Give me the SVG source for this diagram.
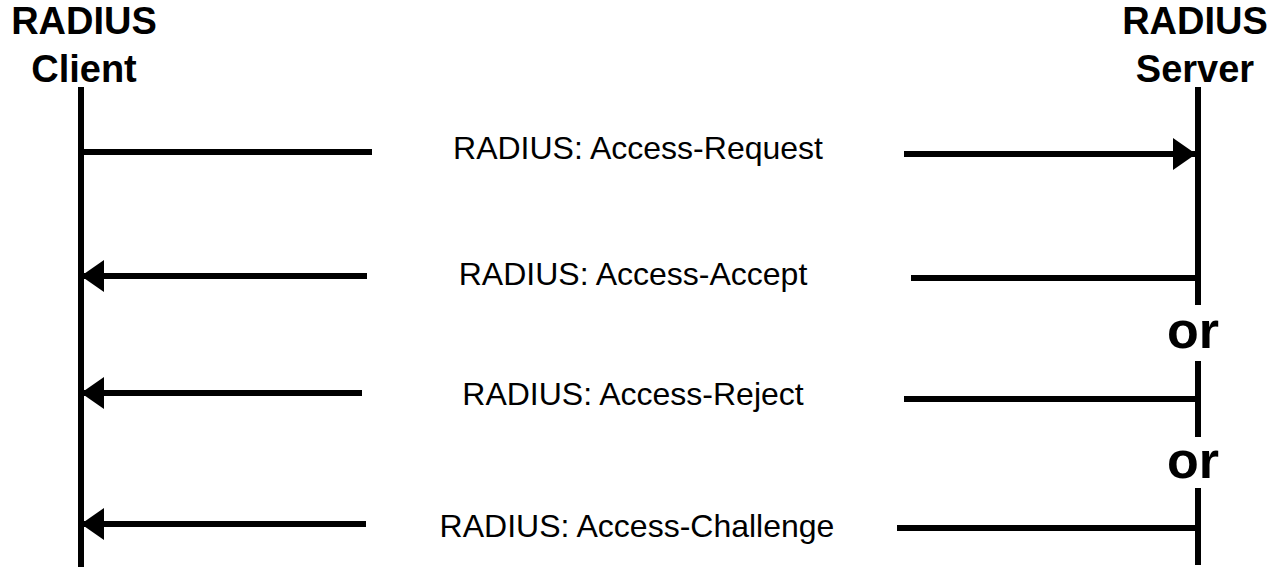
<svg xmlns="http://www.w3.org/2000/svg" width="1280" height="573" viewBox="0 0 1280 573">
<style>
  .title { font-family: "Liberation Sans", Arial, Helvetica, sans-serif; font-weight: bold; font-size: 38px; fill: #000; text-anchor: middle; }
  .label { font-family: "Liberation Sans", Arial, Helvetica, sans-serif; font-size: 32px; fill: #000; text-anchor: middle; }
  .or { font-family: "Liberation Sans", Arial, Helvetica, sans-serif; font-weight: bold; font-size: 52px; fill: #000; text-anchor: middle; }
  .life { stroke: #000; stroke-width: 6; fill: none; }
  .msg { stroke: #000; stroke-width: 6; fill: none; }
  .arrow { marker-end: url(#head); }
</style>
<defs>
  <marker id="head" markerUnits="userSpaceOnUse" markerWidth="24" markerHeight="32" refX="23" refY="16" orient="auto">
    <path d="M0,0 L23,16 L0,32 Z" fill="#000"/>
  </marker>
</defs>
<rect width="1280" height="573" fill="#fff"/>
<g id="client">
  <text class="title" x="84" y="34">RADIUS</text>
  <text class="title" x="84" y="82">Client</text>
  <line class="life" x1="81" y1="87" x2="81" y2="567"/>
</g>
<g id="server">
  <text class="title" x="1195" y="34">RADIUS</text>
  <text class="title" x="1195" y="82">Server</text>
  <line class="life" x1="1198" y1="87" x2="1198" y2="305"/>
  <line class="life" x1="1198" y1="361" x2="1198" y2="437"/>
  <line class="life" x1="1198" y1="488" x2="1198" y2="565"/>
  <text class="or" x="1193" y="348">or</text>
  <text class="or" x="1193" y="478">or</text>
</g>
<g id="connectors">
  <g id="access-request">
    <line class="msg" x1="81" y1="152" x2="372" y2="152"/>
    <line class="msg arrow" x1="904" y1="154" x2="1196" y2="154"/>
    <text class="label" x="638" y="159">RADIUS: Access-Request</text>
  </g>
  <g id="access-accept">
    <line class="msg" x1="1198" y1="278" x2="911" y2="278"/>
    <line class="msg arrow" x1="367" y1="276" x2="81" y2="276"/>
    <text class="label" x="633" y="285">RADIUS: Access-Accept</text>
  </g>
  <g id="access-reject">
    <line class="msg" x1="1198" y1="399" x2="904" y2="399"/>
    <line class="msg arrow" x1="362" y1="393" x2="81" y2="393"/>
    <text class="label" x="633" y="405">RADIUS: Access-Reject</text>
  </g>
  <g id="access-challenge">
    <line class="msg" x1="1198" y1="528" x2="897" y2="528"/>
    <line class="msg arrow" x1="366" y1="524" x2="81" y2="524"/>
    <text class="label" x="637" y="537">RADIUS: Access-Challenge</text>
  </g>
</g>
</svg>
